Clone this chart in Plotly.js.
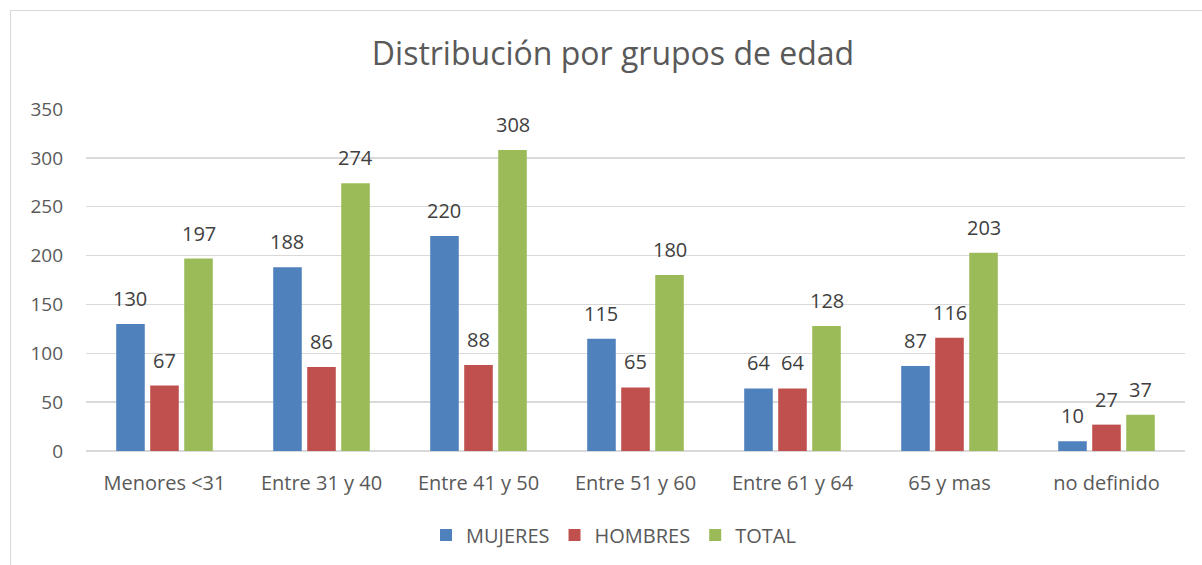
<!DOCTYPE html>
<html><head><meta charset="utf-8">
<script src="https://cdn.plot.ly/plotly-3.0.1.min.js"></script>
<style>
html,body{margin:0;padding:0;background:#fff;overflow:hidden;}
#frame{position:absolute;left:10px;top:10px;width:1300px;height:700px;border:1.5px solid #d9d9d9;box-sizing:border-box;}
#chart{position:absolute;left:0;top:0;width:1202px;height:565px;}
</style></head>
<body>
<div id="frame"></div>
<div id="chart"></div>
<script>
const categories = ["Menores <31","Entre 31 y 40","Entre 41 y 50","Entre 51 y 60","Entre 61 y 64","65 y mas","no definido"];
const mujeres = [130,188,220,115,64,87,10];
const hombres = [67,86,88,65,64,116,27];
const total = [197,274,308,180,128,203,37];
const yTicks = [0,50,100,150,200,250,300,350];

const font = "'Open Sans', 'Liberation Sans', sans-serif";
const seriesDefs = [
  {name:'MUJERES', vals:mujeres, color:'#4F81BD'},
  {name:'HOMBRES', vals:hombres, color:'#C0504D'},
  {name:'TOTAL', vals:total, color:'#9BBB59'}
];
const data = seriesDefs.map(s => ({type:'bar', name:s.name, x:categories, y:s.vals,
  marker:{color:s.color}, hoverinfo:'none'}));

const layout = {
  width:1202, height:565,
  margin:{l:86, r:17, t:109, b:113},
  paper_bgcolor:'rgba(0,0,0,0)', plot_bgcolor:'rgba(0,0,0,0)',
  title:{text:'Distribución por grupos de edad', font:{family:font, size:32, color:'#595959'}, x:0.51, xanchor:'center', y:0.905, yanchor:'middle'},
  barmode:'group', bargap:0.35, bargroupgap:0.16,
  xaxis:{tickfont:{family:font, size:20, color:'#595959'}, showline:false, ticks:'', showgrid:false, fixedrange:true, ticklabelstandoff:18},
  yaxis:{range:[0,350], tickvals:yTicks, ticktext:yTicks.map(String), tickfont:{family:font, size:19, color:'#595959'},
    gridcolor:'#d9d9d9', gridwidth:1.5, zeroline:true, zerolinecolor:'#d9d9d9', zerolinewidth:1.5, ticks:'', ticklen:0, automargin:false, fixedrange:true, ticklabelstandoff:22},
  showlegend:true,
  legend:{orientation:'h', x:0.48, xanchor:'center', y:-0.242, yanchor:'middle', font:{family:font, size:20, color:'#595959'}, itemwidth:30, traceorder:'normal'},
  annotations:[]
};
// label positions derived from the group layout in category units
const groupWidth = 1 - layout.bargap;
const barSlot = groupWidth / seriesDefs.length;
seriesDefs.forEach((s, si) => {
  s.vals.forEach((v, ci) => {
    layout.annotations.push({
      xref:'x', yref:'y', x: ci - groupWidth/2 + barSlot*(si+0.5), y: v,
      text:String(v), showarrow:false, yanchor:'bottom', yshift:10,
      font:{family:font, size:20, color:'#404040'}
    });
  });
});
Plotly.newPlot('chart', data, layout, {displayModeBar:false, staticPlot:true});
</script>
</body></html>
